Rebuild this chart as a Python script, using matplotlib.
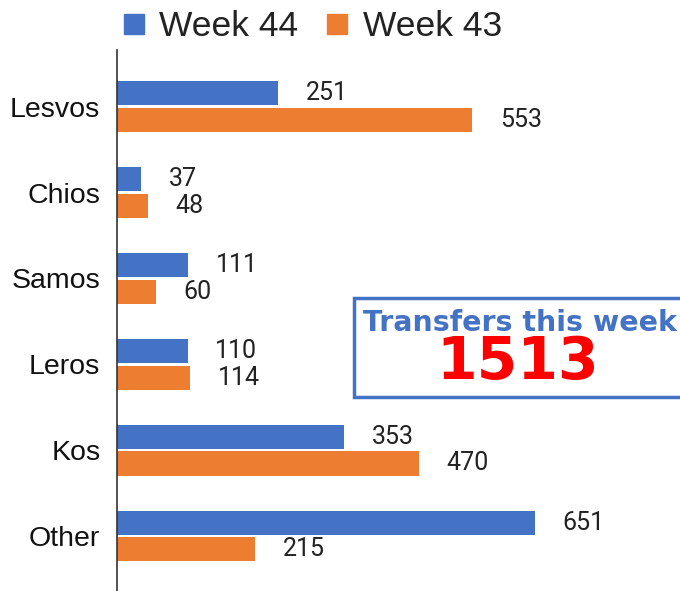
import matplotlib.pyplot as plt
from matplotlib.patches import Rectangle
from matplotlib.lines import Line2D
import numpy as np

islands = ['Lesvos', 'Chios', 'Samos', 'Leros', 'Kos', 'Other']
week44 = [251, 37, 111, 110, 353, 651]
week43 = [553, 48, 60, 114, 470, 215]
total_label = 'Transfers this week'
total_value = '1513'

blue = '#4472C4'
orange = '#ED7D31'

plt.rcParams['font.family'] = ['Liberation Sans', 'DejaVu Sans']

fig = plt.figure(figsize=(6.8, 5.91), dpi=100)
ax = fig.add_axes([117 / 680, 0, 1 - 117 / 680, 541 / 591])

y = np.arange(len(islands))
h = 0.28
ax.barh(y - 0.155, week44, height=h, color=blue)
ax.barh(y + 0.155, week43, height=h, color=orange)

for yi, v in zip(y, week44):
    ax.annotate(str(v), (v, yi - 0.155), xytext=(20, 0), textcoords='offset points',
                va='center', ha='left', fontsize=18, color='#222222', family='Roboto')
for yi, v in zip(y, week43):
    ax.annotate(str(v), (v, yi + 0.155), xytext=(20, 0), textcoords='offset points',
                va='center', ha='left', fontsize=18, color='#222222', family='Roboto')

ax.set_ylim(5.64, -0.66)
ax.set_xlim(0, 877)
ax.set_yticks(y)
ax.set_yticklabels(islands, fontsize=20.5, color='#111111')
ax.tick_params(axis='y', length=0, pad=12)
ax.set_xticks([])
for s in ['top', 'right', 'bottom']:
    ax.spines[s].set_visible(False)
ax.spines['left'].set_color('#333333')
ax.spines['left'].set_linewidth(1.2)

# legend
handles = [Line2D([], [], marker='s', linestyle='', markersize=14.5, color=blue),
           Line2D([], [], marker='s', linestyle='', markersize=14.5, color=orange)]
fig.legend(handles, ['Week 44', 'Week 43'], loc='upper center', bbox_to_anchor=(0.452, 1.037),
           ncol=2, frameon=False, fontsize=25.5, handletextpad=0.12, columnspacing=0.5,
           handlelength=1.2, labelcolor='#222222')

# totals box
box = Rectangle((354 / 680, 1 - 397 / 591), 330 / 680, 99 / 591, transform=fig.transFigure,
                fill=True, facecolor='white', edgecolor=blue, linewidth=2.5)
fig.patches.append(box)
fig.text(520 / 680, 1 - 323 / 591, total_label, ha='center', va='center', fontsize=20.5,
         fontweight='heavy', color=blue, family='DejaVu Sans')
fig.text(518 / 680, 1 - 363 / 591, total_value, ha='center', va='center', fontsize=42,
         fontweight='bold', color='#FF0000', family='DejaVu Sans')

fig.savefig('out.png', dpi=100)
